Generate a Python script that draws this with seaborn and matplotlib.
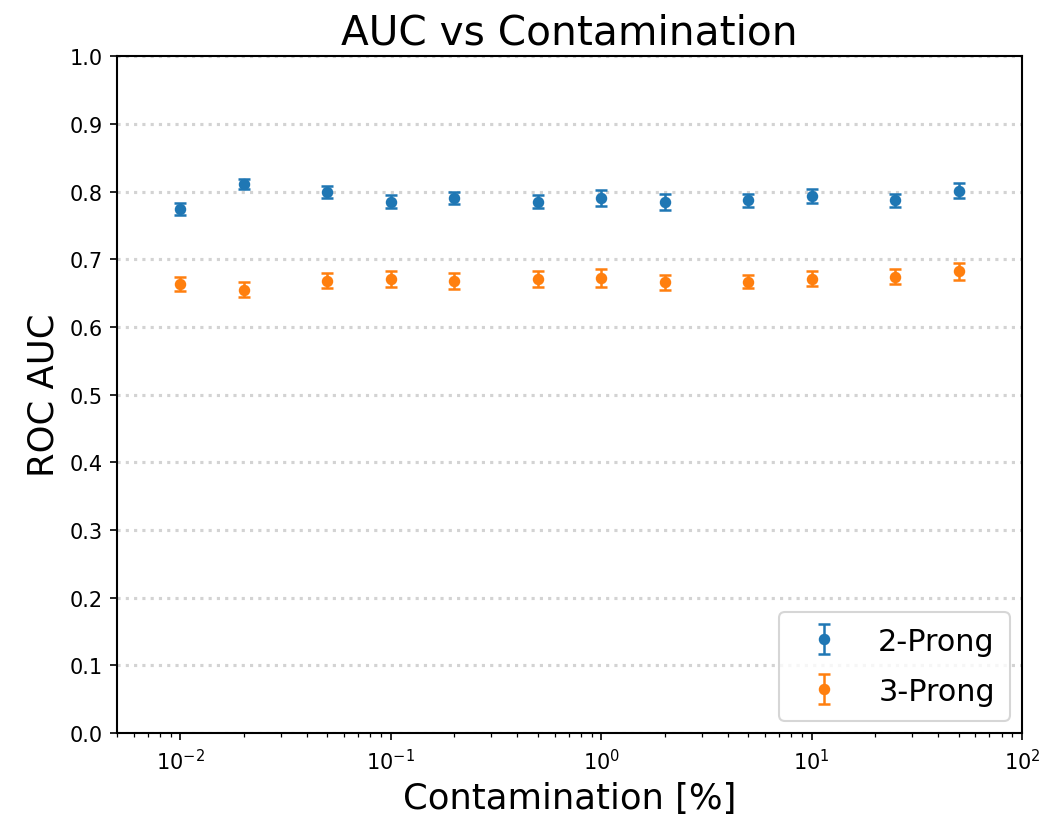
import matplotlib
matplotlib.use("Agg")
import matplotlib.pyplot as plt
import seaborn as sns
import numpy as np

contamination = [0.01, 0.02, 0.05, 0.1, 0.2, 0.5, 1, 2, 5, 10, 25, 50]
auc_2prong = [0.774, 0.811, 0.799, 0.785, 0.790, 0.785, 0.790, 0.785, 0.787, 0.793, 0.787, 0.801]
err_2prong = [0.009, 0.007, 0.009, 0.010, 0.009, 0.010, 0.012, 0.012, 0.010, 0.010, 0.010, 0.011]
auc_3prong = [0.663, 0.655, 0.668, 0.671, 0.668, 0.671, 0.672, 0.666, 0.667, 0.671, 0.674, 0.682]
err_3prong = [0.010, 0.011, 0.011, 0.012, 0.012, 0.012, 0.013, 0.011, 0.010, 0.011, 0.011, 0.012]
labels = ["2-Prong", "3-Prong"]

sns.set_style("white")
plt.rcParams["font.family"] = ["DejaVu Sans"]
plt.rcParams.update({"text.color": "black", "axes.labelcolor": "black",
                     "xtick.color": "black", "ytick.color": "black"})
colors = sns.color_palette("tab10")

fig = plt.figure(figsize=(1045/150, 828/150), dpi=150)
ax = fig.add_axes([0.112, 0.1135, 0.866, 0.8175])

for y, e, lab, c in [(auc_2prong, err_2prong, labels[0], colors[0]),
                     (auc_3prong, err_3prong, labels[1], colors[1])]:
    ax.errorbar(contamination, y, yerr=e, fmt="o", color=c, markersize=4.5,
                capsize=3, elinewidth=1.2, capthick=1.2, label=lab)

ax.set_xscale("log")
ax.set_xlim(0.005, 100)
ax.set_ylim(0, 1.0)
ax.set_yticks(np.arange(0, 1.01, 0.1))
ax.yaxis.grid(True, linestyle=":", color="lightgray", linewidth=1.5)
ax.set_axisbelow(True)
for s in ax.spines.values():
    s.set_visible(True)
    s.set_color("black")
    s.set_linewidth(1.0)
ax.tick_params(axis="both", which="both", direction="out", bottom=True, left=True,
               labelsize=10, color="black", labelcolor="black")
ax.tick_params(axis="both", which="major", length=3.5, width=0.8)
ax.tick_params(axis="x", which="minor", length=2, width=0.6)
ax.set_title("AUC vs Contamination", fontsize=19.5, color="black")
ax.set_xlabel("Contamination [%]", fontsize=17, color="black")
ax.set_ylabel("ROC AUC", fontsize=17, color="black")
leg = ax.legend(loc="lower right", fontsize=14.5, frameon=True, borderpad=0.5,
                labelspacing=0.7, borderaxespad=0.4)
for t in leg.get_texts():
    t.set_color("black")

fig.savefig("out.png", dpi=150)
